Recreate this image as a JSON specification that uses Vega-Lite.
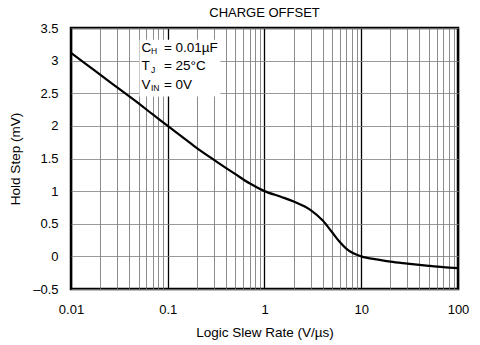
{
  "$schema": "https://vega.github.io/schema/vega-lite/v6.json",
  "width": 387,
  "height": 261,
  "autosize": "none",
  "padding": {"left": 71, "top": 28, "right": 22, "bottom": 56},
  "background": "white",
  "config": {
    "font": "Liberation Sans",
    "view": {"stroke": "black", "strokeWidth": 2.5},
    "axis": {"labelOverlap": false}
  },
  "title": {"text": "CHARGE OFFSET", "fontSize": 13, "fontWeight": "normal", "anchor": "middle", "offset": 2, "color": "black", "font": "Liberation Sans"},
  "datasets": {
    "curve": [
      {"rate": 0.01, "step": 3.12},
      {"rate": 0.015, "step": 2.925},
      {"rate": 0.02, "step": 2.785},
      {"rate": 0.03, "step": 2.59},
      {"rate": 0.05, "step": 2.345},
      {"rate": 0.07, "step": 2.175},
      {"rate": 0.1, "step": 2.0},
      {"rate": 0.15, "step": 1.8},
      {"rate": 0.2, "step": 1.66},
      {"rate": 0.3, "step": 1.48},
      {"rate": 0.5, "step": 1.26},
      {"rate": 0.7, "step": 1.12},
      {"rate": 1, "step": 1.0},
      {"rate": 1.5, "step": 0.91},
      {"rate": 2, "step": 0.84},
      {"rate": 3, "step": 0.71},
      {"rate": 4, "step": 0.55},
      {"rate": 5, "step": 0.37},
      {"rate": 6, "step": 0.22},
      {"rate": 7, "step": 0.12},
      {"rate": 8, "step": 0.06},
      {"rate": 10, "step": 0.0},
      {"rate": 15, "step": -0.05},
      {"rate": 20, "step": -0.08},
      {"rate": 30, "step": -0.11},
      {"rate": 50, "step": -0.145},
      {"rate": 70, "step": -0.165},
      {"rate": 100, "step": -0.18}
    ],
    "notes": [
      {"x": 0.0534, "y": 3.136, "main": "C", "sub": "H", "rest": "= 0.01µF"},
      {"x": 0.0534, "y": 2.856, "main": "T", "sub": "J", "rest": "= 25°C"},
      {"x": 0.0534, "y": 2.57, "main": "V", "sub": "IN", "rest": "= 0V"}
    ],
    "box": [
      {"x": 0.051, "x2": 0.35, "y": 2.45, "y2": 3.32}
    ]
  },
  "layer": [
    {
      "data": {"name": "curve"},
      "mark": {"type": "line", "color": "black", "strokeWidth": 2.2, "interpolate": "monotone"},
      "encoding": {
        "x": {
          "field": "rate",
          "type": "quantitative",
          "scale": {"type": "log", "domain": [0.01, 100], "nice": false},
          "axis": {
            "title": "Logic Slew Rate (V/µs)",
            "values": [0.01,0.02,0.03,0.04,0.05,0.06,0.07,0.08,0.09,0.1,0.2,0.3,0.4,0.5,0.6,0.7,0.8,0.9,1,2,3,4,5,6,7,8,9,10,20,30,40,50,60,70,80,90,100],
            "tickCount": 100,
            "labelExpr": "abs(log(datum.value)/LN10 - round(log(datum.value)/LN10)) < 0.001 ? format(datum.value, '~g') : ''",
            "grid": true,
            "gridColor": {"condition": {"test": "abs(log(datum.value)/LN10 - round(log(datum.value)/LN10)) < 0.001", "value": "#000000"}, "value": "#707070"},
            "gridWidth": {"condition": {"test": "abs(log(datum.value)/LN10 - round(log(datum.value)/LN10)) < 0.001", "value": 1.3}, "value": 0.8},
            "ticks": false,
            "domain": false,
            "labelOverlap": false,
            "labelFlush": false,
            "labelFontSize": 13,
            "labelColor": "black",
            "labelPadding": 14,
            "titleFontSize": 13.5,
            "titleFontWeight": "normal",
            "titleColor": "black",
            "titlePadding": 9
          }
        },
        "y": {
          "field": "step",
          "type": "quantitative",
          "scale": {"domain": [-0.5, 3.5], "nice": false, "zero": false},
          "axis": {
            "title": "Hold Step (mV)",
            "values": [-0.5, 0, 0.5, 1, 1.5, 2, 2.5, 3, 3.5],
            "tickCount": 20,
            "labelExpr": "replace(format(datum.value, '.1~f'), '\u2212', '\u2013')",
            "grid": true,
            "gridColor": "#808080",
            "gridWidth": 0.8,
            "ticks": false,
            "domain": false,
            "labelOverlap": false,
            "labelFontSize": 13,
            "labelColor": "black",
            "labelPadding": 13,
            "labelFlush": false,
            "titleFontSize": 13.5,
            "titleFontWeight": "normal",
            "titleColor": "black",
            "titlePadding": 10
          }
        }
      }
    },
    {
      "data": {"name": "box"},
      "mark": {"type": "rect", "color": "white"},
      "encoding": {
        "x": {"field": "x", "type": "quantitative"},
        "x2": {"field": "x2"},
        "y": {"field": "y", "type": "quantitative"},
        "y2": {"field": "y2"}
      }
    },
    {
      "data": {"name": "notes"},
      "mark": {"type": "text", "align": "left", "baseline": "alphabetic", "fontSize": 13.5, "color": "black"},
      "encoding": {
        "x": {"field": "x", "type": "quantitative"},
        "y": {"field": "y", "type": "quantitative"},
        "text": {"field": "main"}
      }
    },
    {
      "data": {"name": "notes"},
      "mark": {"type": "text", "align": "left", "baseline": "alphabetic", "fontSize": 8.5, "color": "black", "dx": 9.5, "dy": 2.5},
      "encoding": {
        "x": {"field": "x", "type": "quantitative"},
        "y": {"field": "y", "type": "quantitative"},
        "text": {"field": "sub"}
      }
    },
    {
      "data": {"name": "notes"},
      "mark": {"type": "text", "align": "left", "baseline": "alphabetic", "fontSize": 13.5, "color": "black", "dx": 22.5},
      "encoding": {
        "x": {"field": "x", "type": "quantitative"},
        "y": {"field": "y", "type": "quantitative"},
        "text": {"field": "rest"}
      }
    }
  ]
}
